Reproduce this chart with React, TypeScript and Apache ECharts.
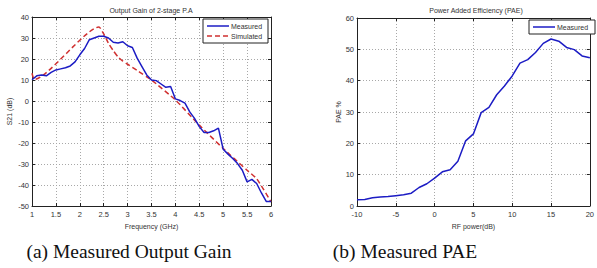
import React, { useEffect, useRef } from "react";
import * as echarts from "echarts";

// Left chart: Output Gain of 2-stage P.A
const freqMeasured = [1.0, 1.1, 1.2, 1.3, 1.4, 1.5, 1.6, 1.7, 1.8, 1.9, 2.0, 2.1, 2.2, 2.3, 2.4, 2.5, 2.6, 2.7, 2.8, 2.9, 3.0, 3.1, 3.2, 3.3, 3.4, 3.5, 3.6, 3.7, 3.8, 3.9, 4.0, 4.1, 4.2, 4.3, 4.4, 4.5, 4.6, 4.7, 4.8, 4.9, 5.0, 5.1, 5.2, 5.3, 5.4, 5.5, 5.6, 5.7, 5.8, 5.9, 6.0];
const gainMeasured = [10.1, 12, 12.4, 12, 13.6, 14.8, 15.3, 15.8, 16.7, 18.6, 22, 25, 29.2, 30, 30.8, 30.8, 30, 28, 27.6, 28.2, 26.3, 25.5, 20.4, 16.4, 12.4, 10, 9.7, 8.1, 6.5, 6.9, 1, 0.2, -1, -5.2, -8.3, -12.2, -15, -15, -14.2, -12.9, -23, -25.3, -27.4, -29.8, -33, -38.5, -37.3, -39.3, -43.8, -47.8, -47.8];
const freqSimulated = [1.0, 1.05, 2.4, 2.5, 2.6, 2.7, 2.8, 2.9, 3.0, 3.1, 3.2, 3.3, 3.4, 3.5, 4.0, 4.5, 5.0, 5.5, 5.7, 6.0];
const gainSimulated = [13.2, 10.3, 35.2, 32, 27.5, 24, 21, 19, 17.5, 16, 14.5, 13, 11.5, 10, 0.5, -11.5, -22.6, -33, -37, -48];

// Right chart: Power Added Efficiency
const rfPower = [-10, -9, -8, -7, -6, -5, -4, -3, -2, -1, 0, 1, 2, 3, 4, 5, 6, 7, 8, 9, 10, 11, 12, 13, 14, 15, 16, 17, 18, 19, 20];
const paeMeasured = [2.0, 2.1, 2.6, 2.9, 3.0, 3.3, 3.6, 4.1, 5.9, 7.1, 8.9, 10.9, 11.6, 14.3, 20.8, 23, 29.8, 31.5, 35.5, 38.3, 41.5, 45.6, 46.7, 49, 51.9, 53.3, 52.6, 50.6, 49.9, 47.9, 47.3];

const titleLeft = "Output Gain of 2-stage P.A";
const titleRight = "Power Added Efficiency (PAE)";
const captionLeft = "(a) Measured Output Gain";
const captionRight = "(b) Measured PAE";
const legendLeft = ["Measured", "Simulated"];
const legendRight = ["Measured"];

const FONT = "Liberation Sans, Arial, sans-serif";
const SERIF = "Liberation Serif, Times New Roman, serif";
const TXT = "#333";
const BLUE = "#1c1cc4";
const RED = "#d03030";

function pairs(xs: number[], ys: number[]) {
  return xs.map((x, i) => [x, ys[i]]);
}

function mainX(gridIndex: number, min: number, max: number, interval: number, name: string, nameGap: number) {
  return {
    type: "value",
    gridIndex,
    min,
    max,
    interval,
    name,
    nameLocation: "middle",
    nameGap,
    nameTextStyle: { fontFamily: FONT, fontSize: 7, color: TXT },
    axisLine: { show: true, onZero: false, lineStyle: { color: "#222", width: 1 } },
    axisTick: { show: true, inside: true, length: 3, lineStyle: { color: "#222" } },
    axisLabel: { fontFamily: FONT, fontSize: 7.5, color: TXT, margin: 4 },
    splitLine: { show: true, lineStyle: { color: "#a8a8a8", type: [1, 2], width: 1 } },
  };
}
function mainY(gridIndex: number, min: number, max: number, interval: number, name: string, nameGap: number) {
  return {
    type: "value",
    gridIndex,
    min,
    max,
    interval,
    name,
    nameLocation: "middle",
    nameGap,
    nameTextStyle: { fontFamily: FONT, fontSize: 7, color: TXT },
    axisLine: { show: true, onZero: false, lineStyle: { color: "#222", width: 1 } },
    axisTick: { show: true, inside: true, length: 3, lineStyle: { color: "#222" } },
    axisLabel: { fontFamily: FONT, fontSize: 7.5, color: TXT, margin: 3 },
    splitLine: { show: true, lineStyle: { color: "#a8a8a8", type: [1, 2], width: 1 } },
  };
}
function boxAxis(kind: "x" | "y", gridIndex: number, min: number, max: number, interval: number) {
  return {
    type: "value",
    gridIndex,
    min,
    max,
    interval,
    position: kind === "x" ? "top" : "right",
    axisLine: { show: true, onZero: false, lineStyle: { color: "#222", width: 1 } },
    axisTick: { show: true, inside: true, length: 3, lineStyle: { color: "#222" } },
    axisLabel: { show: false },
    splitLine: { show: false },
  };
}

function legendBox(x: number, y: number, w: number, names: string[], colors: string[], dashes: (number[] | null)[]) {
  const rowH = 10;
  const h = names.length * rowH + 4;
  const children: any[] = [
    { type: "rect", shape: { x, y, width: w, height: h }, style: { fill: "#fff", stroke: "#222", lineWidth: 1 }, z: 100 },
  ];
  names.forEach((n, i) => {
    const cy = y + 2 + rowH * i + rowH / 2;
    children.push({
      type: "line",
      shape: { x1: x + 4, y1: cy, x2: x + 26, y2: cy },
      style: { stroke: colors[i], lineWidth: 1.5, lineDash: dashes[i] || undefined },
      z: 101,
    });
    children.push({
      type: "text",
      x: x + 28,
      y: cy,
      style: { text: n, fontFamily: FONT, fontSize: 7, fill: TXT, textVerticalAlign: "middle" },
      z: 101,
    });
  });
  return children;
}

export default function App() {
  const ref = useRef<HTMLDivElement>(null);
  useEffect(() => {
    if (!ref.current) return;
    const chart = echarts.init(ref.current, undefined, { renderer: "svg" });
    chart.setOption({
      animation: false,
      backgroundColor: "#fff",
      grid: [
        { left: 32, top: 17, width: 239, height: 189 },
        { left: 357, top: 18, width: 239, height: 188 },
      ],
      xAxis: [
        mainX(0, 1, 6, 0.5, "Frequency (GHz)", 11),
        mainX(1, -10, 20, 5, "RF power(dB)", 11),
        boxAxis("x", 0, 1, 6, 0.5),
        boxAxis("x", 1, -10, 20, 5),
      ],
      yAxis: [
        mainY(0, -50, 40, 10, "S21 (dB)", 19),
        mainY(1, 0, 60, 10, "PAE %", 15),
        boxAxis("y", 0, -50, 40, 10),
        boxAxis("y", 1, 0, 60, 10),
      ],
      series: [
        {
          name: "Measured",
          type: "line",
          xAxisIndex: 0,
          yAxisIndex: 0,
          data: pairs(freqMeasured, gainMeasured),
          symbol: "none",
          lineStyle: { color: BLUE, width: 1.5 },
          itemStyle: { color: BLUE },
          z: 3,
        },
        {
          name: "Simulated",
          type: "line",
          xAxisIndex: 0,
          yAxisIndex: 0,
          data: pairs(freqSimulated, gainSimulated),
          symbol: "none",
          smooth: 0.2,
          lineStyle: { color: RED, width: 1.5, type: [5, 3] },
          itemStyle: { color: RED },
          z: 2,
        },
        {
          name: "Measured",
          type: "line",
          xAxisIndex: 1,
          yAxisIndex: 1,
          data: pairs(rfPower, paeMeasured),
          symbol: "none",
          lineStyle: { color: BLUE, width: 1.5 },
          itemStyle: { color: BLUE },
        },
      ],
      graphic: [
        { type: "text", x: 151, y: 10, style: { text: titleLeft, fontFamily: FONT, fontSize: 7, fill: TXT, textAlign: "center", textVerticalAlign: "middle" } },
        { type: "text", x: 476, y: 10, style: { text: titleRight, fontFamily: FONT, fontSize: 7, fill: TXT, textAlign: "center", textVerticalAlign: "middle" } },
        { type: "text", x: 129, y: 251, style: { text: captionLeft, fontFamily: SERIF, fontSize: 19.5, fill: "#111", textAlign: "center", textVerticalAlign: "middle" } },
        { type: "text", x: 405, y: 251, style: { text: captionRight, fontFamily: SERIF, fontSize: 19.5, fill: "#111", textAlign: "center", textVerticalAlign: "middle" } },
        ...legendBox(203, 19, 65, legendLeft, [BLUE, RED], [null, [5, 3]]),
        ...legendBox(529, 20, 66, legendRight, [BLUE], [null]),
      ],
    });
    return () => chart.dispose();
  }, []);
  return <div ref={ref} style={{ position: "absolute", left: 0, top: 0, width: 597, height: 268 }} />;
}
